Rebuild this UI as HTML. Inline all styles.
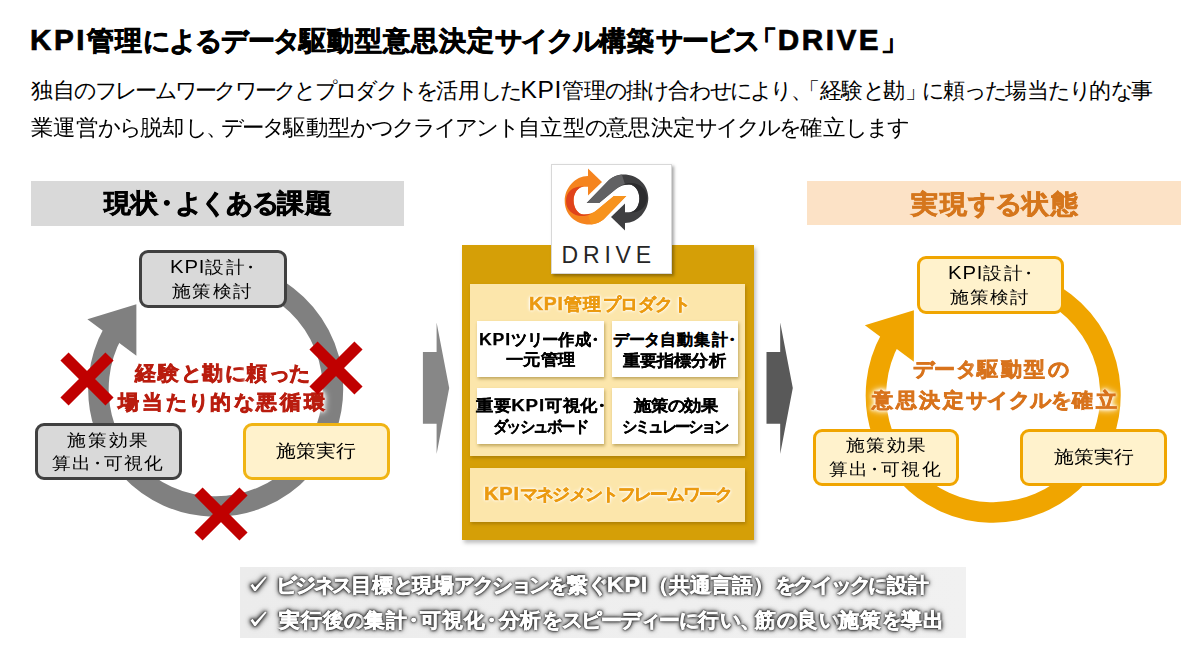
<!DOCTYPE html>
<html lang="ja"><head><meta charset="utf-8"><title>DRIVE</title>
<style>
html,body{margin:0;padding:0;background:#fff;}
body{width:1200px;height:645px;position:relative;overflow:hidden;font-family:"Liberation Sans",sans-serif;color:#000;}
.t{position:absolute;white-space:nowrap;line-height:1;letter-spacing:var(--ls);}
.k{letter-spacing:calc(var(--ls) - var(--kd,.11em));}
.b{font-weight:bold;-webkit-text-stroke-width:.45px;}
.h{-webkit-text-stroke-width:.7px;}
.cd{-webkit-text-stroke-width:.25px;}
.nd{margin:0 -.22em;}
.ed{margin-left:-.3em;}
.lb{margin-left:-.35em;}
.cm{margin-right:-.3em;}
.ob{margin-left:-.35em;}
.cb{margin-right:-.2em;}
.L{font-size:1.12em;letter-spacing:.8px;}
.l1{letter-spacing:.6px;}
.l2{letter-spacing:2.5px;}
.abs{position:absolute;box-sizing:border-box;}
.red{color:#b91c0e;text-shadow:0 0 3px #fff,0 0 3px #fff,0 0 5px #fff,0 0 7px #fff,0 0 9px #fff;}
.org{color:#d8731c;text-shadow:0 0 3px #fff,0 0 3px #fff,0 0 5px #fff,0 0 7px #fff,0 0 9px #fff;}
.or{color:#d5761c;}
.gold{color:#eb9a10;-webkit-text-stroke-width:.55px;text-shadow:0 0 2px #fff,0 0 2px #fff,0 0 3px #fff,0 0 4px #fff;}
.wht{color:#fff;-webkit-text-stroke-width:.7px;text-shadow:0 0 1px #222,0 0 2px #222,0 0 2px #333,0 0 3px #333,0 0 4px #444,0 0 5px #555,0 0 6px #777;}
.chk{color:#fff;-webkit-text-stroke-width:.8px;text-shadow:0 0 1px #333,0 0 2px #333,0 0 3px #444,0 0 4px #555;}
.drv{color:#262626;}
.box{position:absolute;box-sizing:border-box;border-radius:9px;}
.card{position:absolute;background:#fff;box-shadow:1px 2px 3px rgba(120,90,0,.45);}
</style></head><body>

<div class="abs" style="left:31px;top:181px;width:373px;height:45px;background:#d9d9d9"></div>
<div class="abs" style="left:807px;top:181px;width:374px;height:44px;background:#fce2c6"></div>
<svg class="abs" style="left:0;top:0" width="1200" height="645" viewBox="0 0 1200 645"><path d="M246.05 275.95 A117.25 117.25 0 1 1 113.15 332.36" fill="none" stroke="#808080" stroke-width="20.5"/><polygon points="136.40,304.30 87.40,319.20 136.40,355.80" fill="#808080"/><path d="M1023.55 281.95 A117.25 117.25 0 1 1 890.65 338.36" fill="none" stroke="#f0a500" stroke-width="20.5"/><polygon points="913.90,310.30 864.90,325.20 913.90,361.80" fill="#f0a500"/><polygon points="422.9,352 436.6,352 436.6,322.4 449.2,388 436.6,454 436.6,423.7 422.9,423.7" fill="#878787"/><polygon points="766.5,352 780.2,352 780.2,322.4 792.8,388 780.2,454 780.2,423.7 766.5,423.7" fill="#595959"/></svg>
<div class="box" style="left:139.25px;top:249.5px;width:147.45px;height:58.0px;background:#d9d9d9;border:3px solid #404040"></div>
<div class="box" style="left:35.2px;top:423.4px;width:146.8px;height:56.30000000000001px;background:#d9d9d9;border:3px solid #404040"></div>
<div class="box" style="left:242.6px;top:423.4px;width:147.29999999999998px;height:56.30000000000001px;background:#fff2cc;border:3px solid #f0b414"></div>
<div class="box" style="left:916.75px;top:255.5px;width:147.45000000000005px;height:58.0px;background:#fff2cc;border:3px solid #f0a500"></div>
<div class="box" style="left:812.7px;top:429.4px;width:146.79999999999995px;height:56.30000000000001px;background:#fff2cc;border:3px solid #f0a500"></div>
<div class="box" style="left:1020.1px;top:429.4px;width:147.30000000000007px;height:56.30000000000001px;background:#fff2cc;border:3px solid #f0a500"></div>
<div class="abs" style="left:461.5px;top:245px;width:292px;height:295px;background:#d59f07;box-shadow:2px 3px 4px rgba(0,0,0,.25)"></div>
<div class="abs" style="left:470px;top:284px;width:274.5px;height:171.5px;background:#fce6ab;box-shadow:1px 2px 3px rgba(100,70,0,.35)"></div>
<div class="abs" style="left:470px;top:467.5px;width:274.7px;height:54px;background:#fce6ab;box-shadow:1px 2px 3px rgba(100,70,0,.35)"></div>
<div class="card" style="left:477px;top:321.25px;width:126.5px;height:55.75px"></div>
<div class="card" style="left:611.75px;top:321.25px;width:126.5px;height:55.75px"></div>
<div class="card" style="left:477px;top:388px;width:126.75px;height:55.75px"></div>
<div class="card" style="left:611.75px;top:388px;width:126.5px;height:55.75px"></div>
<div class="abs" style="left:550.5px;top:163.5px;width:121px;height:110px;background:#fff;border:1px solid #d8d8d8;box-shadow:2px 2px 3px rgba(0,0,0,.35)"></div>
<svg class="abs" style="left:0;top:0" width="1200" height="645" viewBox="0 0 1200 645">
<defs>
<g id="lg">
<path d="M588 176 C575 176 564.7 188 564.7 201 C564.7 214 575 224.5 589.7 224.5 C596 224.5 601 222 605 218 L626.3 196 L613.9 196 L597 210 C593 213.5 588 214.6 584 214.6 C578 214.6 573.6 208 573.6 200.5 C573.6 193 578 186.7 584 186.7 L588 186.7 Z"/>
<path d="M588 168.4 L602 182 L588 195.5 Z"/>
</g>
<path id="cr" d="M584 186.7 C578 186.7 573.6 193 573.6 200.5 C573.6 208 578 214.6 584 214.6 L591 214 C578 220 565.8 212 566 201 C566.2 191 574 185.8 584 186.7 Z"/>
<path id="bd" d="M591 224.3 C597 223.6 601 222 605 218 L626.3 196 L613.9 196 L597 210 C594 212.5 591 214 588 214.5 Z"/>
</defs>
<use href="#lg" fill="#f5841f"/>
<use href="#bd" fill="#f7931d"/>
<use href="#cr" fill="#e0431b"/>
<g transform="rotate(180 606.5 199.5)">
<use href="#lg" fill="#3f3f41"/>
<use href="#bd" fill="#616163"/>
<use href="#cr" fill="#2c2c2e"/>
</g>
</svg>

<div class="abs" style="left:240px;top:567px;width:726px;height:71px;background:linear-gradient(90deg,#ececec,#f1f1f1)"></div>
<svg class="abs" style="left:0;top:0;filter:drop-shadow(0 0 1px #222) drop-shadow(0 0 2px #333) drop-shadow(0 0 2px #666)" width="1200" height="645"><polygon points="250.5,585.6 252.6,583.7 255.1,587.2 265.2,576.5 266.6,577.6 255.8,591.0 254.2,591.0" fill="#fff"/><polygon points="250.5,620.6 252.6,618.7 255.1,622.2 265.2,611.5 266.6,612.6 255.8,626.0 254.2,626.0" fill="#fff"/></svg>
<div id="title" class="t b h" style="left:30.00px;top:24.50px;font-size:26.50px;--ls:1.032px;"><span class="L l2">KPI</span>管理<span class="k">によるデータ</span>駆動型意思決定<span class="k">サイクル</span>構築<span class="k">サービス</span><span class="lb">「</span><span class="L l2">DRIVE</span>」</div>
<div id="sub1" class="t" style="left:31.00px;top:77.80px;font-size:22.00px;--ls:-0.303px;">独自<span class="k">のフレームワークワークとプロダクトを</span>活用<span class="k">した</span><span class="L l1">KPI</span>管理<span class="k">の</span>掛<span class="k">け</span>合<span class="k">わせにより</span><span class="cm">、</span><span class="ob">「</span>経験<span class="k">と</span>勘<span class="cb">」</span><span class="k">に</span>頼<span class="k">った</span>場当<span class="k">たり</span>的<span class="k">な</span>事</div>
<div id="sub2" class="t" style="left:31.00px;top:116.55px;font-size:22.00px;--ls:-0.055px;transform:scaleX(1.0200);transform-origin:0 0;">業運営<span class="k">から</span>脱却<span class="k">し</span><span class="cm">、</span><span class="k">データ</span>駆動型<span class="k">かつクライアント</span>自立型<span class="k">の</span>意思決定<span class="k">サイクルを</span>確立<span class="k">します</span></div>
<div id="hdrL" class="t b h" style="left:104.00px;top:190.90px;font-size:25.50px;--ls:0.410px;transform:scaleX(1.0400);transform-origin:0 0;">現状<span class="nd">・</span><span class="k">よくある</span>課題</div>
<div id="hdrR" class="t b h or" style="left:911.10px;top:191.30px;font-size:26.00px;--ls:1.578px;transform:scaleX(1.0400);transform-origin:0 0;">実現<span class="k">する</span>状態</div>
<div id="lt1" class="t" style="left:170.00px;top:258.00px;font-size:16.50px;--ls:1.473px;transform:scaleX(1.1000);transform-origin:0 0;"><span class="L">KPI</span>設計<span class="ed">・</span></div>
<div id="lt2" class="t" style="left:172.25px;top:283.32px;font-size:16.50px;--ls:1.576px;transform:scaleX(1.1000);transform-origin:0 0;">施策検討</div>
<div id="ll1" class="t" style="left:66.75px;top:431.50px;font-size:16.50px;--ls:1.939px;transform:scaleX(1.1000);transform-origin:0 0;">施策効果</div>
<div id="ll2" class="t" style="left:52.45px;top:455.20px;font-size:16.50px;--ls:1.253px;transform:scaleX(1.1000);transform-origin:0 0;">算出<span class="nd">・</span>可視化</div>
<div id="lr1" class="t" style="left:275.65px;top:443.35px;font-size:17.50px;--ls:0.161px;transform:scaleX(1.1000);transform-origin:0 0;">施策実行</div>
<div id="red1" class="t b h red" style="left:134.50px;top:362.50px;font-size:20.00px;--ls:1.939px;transform:scaleX(1.0500);transform-origin:0 0;">経験<span class="k">と</span>勘<span class="k">に</span>頼<span class="k">った</span></div>
<div id="red2" class="t b h red" style="left:118.00px;top:391.50px;font-size:20.00px;--ls:2.958px;transform:scaleX(1.0500);transform-origin:0 0;">場当<span class="k">たり</span>的<span class="k">な</span>悪循環</div>
<div id="rt1" class="t" style="left:948.00px;top:264.25px;font-size:16.50px;--ls:1.473px;transform:scaleX(1.1000);transform-origin:0 0;"><span class="L">KPI</span>設計<span class="ed">・</span></div>
<div id="rt2" class="t" style="left:949.50px;top:288.57px;font-size:16.50px;--ls:1.106px;transform:scaleX(1.1000);transform-origin:0 0;">施策検討</div>
<div id="rl1" class="t" style="left:846.00px;top:437.40px;font-size:16.50px;--ls:1.439px;transform:scaleX(1.1000);transform-origin:0 0;">施策効果</div>
<div id="rl2" class="t" style="left:829.45px;top:461.20px;font-size:16.50px;--ls:1.271px;transform:scaleX(1.1000);transform-origin:0 0;">算出<span class="nd">・</span>可視化</div>
<div id="rr1" class="t" style="left:1053.65px;top:449.35px;font-size:17.50px;--ls:0.130px;transform:scaleX(1.1000);transform-origin:0 0;">施策実行</div>
<div id="org1" class="t b h org" style="left:913.40px;top:359.62px;font-size:19.50px;--ls:2.486px;transform:scaleX(1.0500);transform-origin:0 0;"><span class="k">データ</span>駆動型<span class="k">の</span></div>
<div id="org2" class="t b h org" style="left:872.22px;top:391.35px;font-size:19.50px;--ls:2.405px;transform:scaleX(1.0500);transform-origin:0 0;">意思決定<span class="k">サイクルを</span>確立</div>
<div id="kpip" class="t b gold" style="left:529.00px;top:295.45px;font-size:16.50px;--ls:1.476px;transform:scaleX(1.0500);transform-origin:0 0;"><span class="L">KPI</span>管理<span class="k">プロダクト</span></div>
<div id="c1a" class="t b cd" style="left:479.38px;top:331.25px;font-size:15.50px;--ls:0.935px;transform:scaleX(1.0200);transform-origin:0 0;"><span class="L">KPI</span><span class="k">ツリー</span>作成<span class="ed">・</span></div>
<div id="c1b" class="t b cd" style="left:506.00px;top:351.50px;font-size:15.50px;--ls:0.123px;transform:scaleX(1.0800);transform-origin:0 0;">一元管理</div>
<div id="c2a" class="t b cd" style="left:613.38px;top:332.25px;font-size:15.50px;--ls:1.242px;"><span class="k">データ</span>自動集計<span class="ed">・</span></div>
<div id="c2b" class="t b cd" style="left:622.75px;top:352.50px;font-size:15.50px;--ls:-0.152px;transform:scaleX(1.0800);transform-origin:0 0;">重要指標分析</div>
<div id="c3a" class="t b cd" style="left:475.75px;top:397.25px;font-size:15.50px;--ls:0.280px;transform:scaleX(1.0800);transform-origin:0 0;">重要<span class="L">KPI</span>可視化<span class="ed">・</span></div>
<div id="c3b" class="t b cd" style="left:492.62px;top:419.00px;font-size:15.50px;--ls:-0.288px;transform:scaleX(0.9600);transform-origin:0 0;"><span class="k">ダッシュボード</span></div>
<div id="c4a" class="t b cd" style="left:633.50px;top:398.25px;font-size:15.50px;--ls:-0.139px;transform:scaleX(1.0800);transform-origin:0 0;">施策<span class="k">の</span>効果</div>
<div id="c4b" class="t b cd" style="left:621.62px;top:418.50px;font-size:15.50px;--ls:-0.565px;transform:scaleX(0.9600);transform-origin:0 0;"><span class="k">シミュレーション</span></div>
<div id="kpim" class="t b gold" style="left:483.50px;top:483.95px;font-size:17.00px;--ls:0.399px;transform:scaleX(1.0500);transform-origin:0 0;"><span class="L">KPI</span><span class="k">マネジメントフレームワーク</span></div>
<div id="drive" class="t drv" style="left:561.60px;top:243.95px;font-size:23.00px;--ls:4.800px;">DRIVE</div>
<div id="bl1" class="t b wht" style="left:275.55px;top:574.30px;font-size:20.00px;--ls:0.259px;transform:scaleX(1.0400);transform-origin:0 0;"><span class="k">ビジネス</span>目標<span class="k">と</span>現場<span class="k">アクションを</span>繋<span class="k">ぐ</span><span class="L">KPI</span>（共通言語）<span class="k">をクイックに</span>設計</div>
<div id="bl2" class="t b wht" style="left:279.30px;top:609.50px;font-size:20.00px;--ls:0.981px;transform:scaleX(1.0400);transform-origin:0 0;">実行後<span class="k">の</span>集計<span class="nd">・</span>可視化<span class="nd">・</span>分析<span class="k">をスピーディーに</span>行<span class="k">い</span><span class="cm">、</span>筋<span class="k">の</span>良<span class="k">い</span>施策<span class="k">を</span>導出</div>
<svg class="abs" style="left:0;top:0" width="1200" height="645"><path d="M64.5 356.5 L109.5 401.5 M109.5 356.5 L64.5 401.5" stroke="#c00000" stroke-width="11.5" fill="none"/><path d="M313.5 345.5 L358.5 390.5 M358.5 345.5 L313.5 390.5" stroke="#c00000" stroke-width="11.5" fill="none"/><path d="M198.5 491.5 L243.5 536.5 M243.5 491.5 L198.5 536.5" stroke="#c00000" stroke-width="11.5" fill="none"/></svg>
</body></html>
